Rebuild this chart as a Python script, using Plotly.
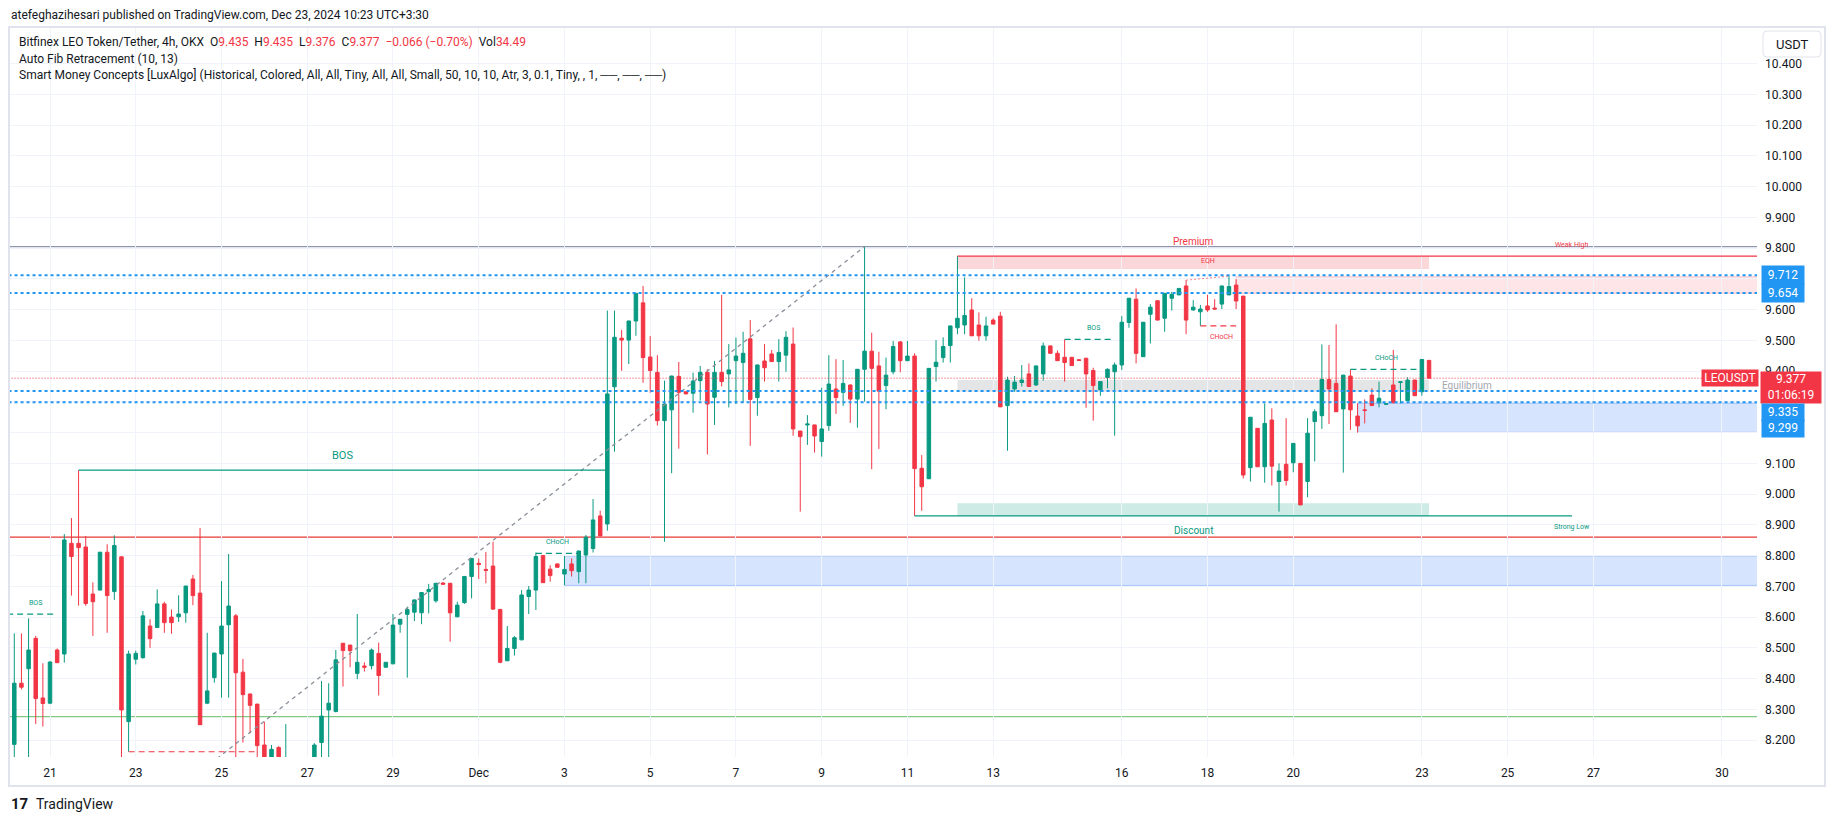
import plotly.graph_objects as go
from datetime import datetime, timedelta

W, H = 1835, 821

# ---------------- data ----------------
first_bar = datetime(2024, 11, 20, 7, 30)   # 4h bars, UTC+3:30
bar_hours = 4

opens = [8.186, 8.385, 8.432, 8.531, 8.337, 8.320, 8.493, 8.480, 8.840, 8.840,
         8.828, 8.675, 8.688, 8.811, 8.683, 8.796, 8.260, 8.463, 8.468, 8.571,
         8.566, 8.643, 8.600, 8.601, 8.614, 8.724, 8.678, 8.320, 8.403, 8.480,
         8.575, 8.604, 8.421, 8.350, 8.317, 8.184, 8.120, 8.176, 8.080, 8.120,
         8.070, 8.100, 8.080, 8.192, 8.298, 8.293, 8.515, 8.509, 8.417, 8.441,
         8.442, 8.482, 8.437, 8.448, 8.577, 8.609, 8.616, 8.614, 8.683, 8.653,
         8.711, 8.710, 8.601, 8.647, 8.732, 8.775, 8.755, 8.766, 8.625, 8.458,
         8.498, 8.526, 8.667, 8.688, 8.800, 8.756, 8.773, 8.740, 8.773, 8.748,
         8.802, 8.823, 8.929, 8.903, 9.349, 9.507, 9.501, 9.563, 9.622, 9.446,
         9.396, 9.239, 9.274, 9.383, 9.333, 9.328, 9.369, 9.396, 9.315, 9.396,
         9.391, 9.434, 9.428, 9.505, 9.314, 9.433, 9.456, 9.431, 9.452, 9.488,
         9.205, 9.225, 9.225, 9.171, 9.223, 9.342, 9.331, 9.355, 9.309, 9.406,
         9.465, 9.417, 9.353, 9.398, 9.495, 9.434, 9.449, 9.084, 9.050, 9.415,
         9.444, 9.483, 9.541, 9.550, 9.599, 9.550, 9.515, 9.566, 9.579, 9.288,
         9.342, 9.363, 9.391, 9.355, 9.391, 9.482, 9.458, 9.445, 9.445, 9.437,
         9.442, 9.402, 9.339, 9.379, 9.398, 9.420, 9.558, 9.634, 9.447, 9.585,
         9.629, 9.572, 9.637, 9.648, 9.677, 9.599, 9.593, 9.612, 9.605, 9.618,
         9.648, 9.680, 9.644, 9.086, 9.214, 9.089, 9.241, 9.041, 9.097, 9.102,
         9.100, 9.041, 9.236, 9.255, 9.373, 9.360, 9.277, 9.384, 9.254, 9.274,
         9.322, 9.297, 9.292, 9.355, 9.363, 9.304, 9.371, 9.333, 9.435]

highs = [8.547, 8.547, 8.596, 8.539, 8.450, 8.456, 8.498, 8.870, 8.922, 9.078,
         8.864, 8.713, 8.812, 8.837, 8.866, 8.797, 8.491, 8.491, 8.620, 8.593,
         8.690, 8.650, 8.625, 8.671, 8.702, 8.737, 8.890, 8.549, 8.484, 8.717,
         8.805, 8.610, 8.464, 8.351, 8.318, 8.260, 8.184, 8.180, 8.252, 8.130,
         8.130, 8.140, 8.190, 8.392, 8.385, 8.493, 8.516, 8.510, 8.610, 8.453,
         8.498, 8.517, 8.454, 8.610, 8.594, 8.634, 8.657, 8.681, 8.708, 8.711,
         8.713, 8.711, 8.650, 8.734, 8.792, 8.791, 8.812, 8.845, 8.626, 8.571,
         8.538, 8.688, 8.701, 8.810, 8.801, 8.769, 8.774, 8.799, 8.791, 8.816,
         8.867, 8.984, 8.946, 9.597, 9.597, 9.534, 9.564, 9.654, 9.677, 9.514,
         9.452, 9.369, 9.385, 9.430, 9.334, 9.395, 9.417, 9.406, 9.433, 9.648,
         9.488, 9.509, 9.528, 9.566, 9.421, 9.488, 9.469, 9.504, 9.530, 9.542,
         9.206, 9.257, 9.226, 9.346, 9.452, 9.439, 9.436, 9.356, 9.407, 9.805,
         9.525, 9.463, 9.444, 9.498, 9.498, 9.498, 9.458, 9.127, 9.410, 9.501,
         9.510, 9.548, 9.774, 9.705, 9.637, 9.591, 9.577, 9.572, 9.593, 9.382,
         9.384, 9.420, 9.425, 9.418, 9.493, 9.483, 9.467, 9.503, 9.446, 9.438,
         9.443, 9.411, 9.367, 9.409, 9.428, 9.579, 9.638, 9.669, 9.560, 9.618,
         9.630, 9.654, 9.658, 9.670, 9.696, 9.631, 9.615, 9.648, 9.634, 9.678,
         9.709, 9.699, 9.645, 9.251, 9.215, 9.295, 9.279, 9.100, 9.247, 9.166,
         9.101, 9.247, 9.276, 9.487, 9.485, 9.552, 9.388, 9.406, 9.295, 9.308,
         9.344, 9.366, 9.295, 9.469, 9.366, 9.380, 9.372, 9.439, 9.435]

lows = [8.100, 8.365, 8.100, 8.252, 8.244, 8.317, 8.450, 8.452, 8.670, 8.637,
        8.637, 8.539, 8.687, 8.549, 8.656, 8.130, 8.162, 8.446, 8.465, 8.500,
        8.565, 8.549, 8.546, 8.584, 8.582, 8.639, 8.249, 8.317, 8.387, 8.338,
        8.338, 8.120, 8.192, 8.222, 8.130, 8.100, 8.100, 8.080, 8.050, 8.040,
        8.030, 8.050, 8.060, 8.120, 8.130, 8.290, 8.374, 8.437, 8.398, 8.423,
        8.430, 8.345, 8.436, 8.447, 8.549, 8.403, 8.587, 8.577, 8.612, 8.647,
        8.705, 8.520, 8.600, 8.643, 8.661, 8.724, 8.710, 8.623, 8.450, 8.457,
        8.475, 8.525, 8.610, 8.623, 8.711, 8.715, 8.761, 8.703, 8.732, 8.710,
        8.710, 8.810, 8.863, 8.881, 9.138, 9.401, 9.423, 9.515, 9.362, 9.330,
        9.223, 8.845, 9.068, 9.148, 9.325, 9.265, 9.304, 9.129, 9.225, 9.350,
        9.282, 9.293, 9.297, 9.157, 9.255, 9.366, 9.430, 9.366, 9.398, 9.190,
        8.943, 9.160, 9.135, 9.122, 9.206, 9.261, 9.287, 9.232, 9.216, 9.301,
        9.081, 9.147, 9.276, 9.390, 9.396, 9.433, 8.929, 8.946, 9.049, 9.366,
        9.428, 9.428, 9.520, 9.520, 9.514, 9.499, 9.499, 9.552, 9.283, 9.141,
        9.333, 9.350, 9.349, 9.352, 9.369, 9.457, 9.433, 9.366, 9.417, 9.434,
        9.281, 9.239, 9.320, 9.344, 9.190, 9.404, 9.541, 9.425, 9.446, 9.490,
        9.565, 9.528, 9.597, 9.647, 9.520, 9.597, 9.547, 9.593, 9.601, 9.602,
        9.647, 9.602, 9.051, 9.041, 9.088, 9.037, 9.028, 8.943, 9.028, 9.071,
        8.964, 8.990, 9.106, 9.212, 9.228, 9.267, 9.070, 9.209, 9.200, 9.230,
        9.287, 9.282, 9.291, 9.296, 9.295, 9.303, 9.319, 9.320, 9.376]

closes = [8.385, 8.372, 8.493, 8.335, 8.319, 8.454, 8.452, 8.851, 8.797, 8.826,
          8.644, 8.650, 8.811, 8.670, 8.833, 8.298, 8.480, 8.482, 8.604, 8.530,
          8.643, 8.582, 8.582, 8.610, 8.701, 8.670, 8.250, 8.360, 8.483, 8.571,
          8.636, 8.419, 8.348, 8.313, 8.182, 8.120, 8.170, 8.110, 8.120, 8.070,
          8.100, 8.080, 8.184, 8.278, 8.320, 8.461, 8.491, 8.491, 8.453, 8.437,
          8.493, 8.410, 8.453, 8.574, 8.593, 8.625, 8.656, 8.680, 8.690, 8.710,
          8.707, 8.614, 8.639, 8.732, 8.791, 8.771, 8.752, 8.626, 8.453, 8.498,
          8.533, 8.672, 8.688, 8.797, 8.712, 8.735, 8.762, 8.755, 8.751, 8.815,
          8.860, 8.916, 8.864, 9.326, 9.510, 9.501, 9.563, 9.653, 9.444, 9.402,
          9.239, 9.293, 9.384, 9.331, 9.326, 9.368, 9.396, 9.293, 9.396, 9.366,
          9.404, 9.449, 9.458, 9.308, 9.420, 9.411, 9.431, 9.461, 9.510, 9.212,
          9.187, 9.228, 9.189, 9.212, 9.358, 9.314, 9.360, 9.309, 9.406, 9.465,
          9.409, 9.335, 9.387, 9.480, 9.434, 9.449, 9.083, 9.024, 9.409, 9.429,
          9.480, 9.547, 9.572, 9.581, 9.515, 9.515, 9.547, 9.553, 9.284, 9.371,
          9.364, 9.371, 9.350, 9.417, 9.482, 9.458, 9.434, 9.428, 9.418, 9.435,
          9.391, 9.353, 9.366, 9.406, 9.420, 9.559, 9.637, 9.458, 9.559, 9.608,
          9.566, 9.653, 9.650, 9.669, 9.566, 9.608, 9.602, 9.599, 9.602, 9.677,
          9.675, 9.628, 9.062, 9.250, 9.089, 9.230, 9.091, 9.075, 9.044, 9.165,
          8.965, 9.198, 9.268, 9.373, 9.342, 9.268, 9.387, 9.274, 9.222, 9.272,
          9.288, 9.312, 9.294, 9.297, 9.365, 9.371, 9.320, 9.438, 9.377]

x_tick_dates = ["2024-11-21", "2024-11-23", "2024-11-25", "2024-11-27", "2024-11-29",
                "2024-12-01", "2024-12-03", "2024-12-05", "2024-12-07", "2024-12-09",
                "2024-12-11", "2024-12-13", "2024-12-16", "2024-12-18", "2024-12-20",
                "2024-12-23", "2024-12-25", "2024-12-27", "2024-12-30"]
x_tick_labels = ["21", "23", "25", "27", "29", "Dec", "3", "5", "7", "9", "11", "13",
                 "16", "18", "20", "23", "25", "27", "30"]
y_ticks = [8.2, 8.3, 8.4, 8.5, 8.6, 8.7, 8.8, 8.9, 9.0, 9.1, 9.2, 9.3, 9.4, 9.5,
           9.6, 9.7, 9.8, 9.9, 10.0, 10.1, 10.2, 10.3, 10.4]
# 9.700 and 9.300 sit fully under the price tags on the scale, as in the original
y_tick_labels = ["" if v in (9.3, 9.7) else "%.3f" % v for v in y_ticks]

# Auto Fib: swing (bar, price) pair and the visible levels
fib_start = (-99, 5.800)
fib_end = (119, 9.805)
fib_levels = [9.805, 8.860, 8.276]

# horizontal dotted levels (user rays)
ray_levels = [9.712, 9.654, 9.335, 9.299]
last_price = 9.377

# Smart-money structure lines: (label, bar0, bar1, price, kind, label_bar)
structures = [
    ("BOS", -1, 6, 8.610, "bull_dash", 3),
    ("BOS", 9, 83, 9.078, "bull_solid", 46),
    ("", 16, 34, 8.162, "bear_dash", 25),
    ("CHoCH", 73, 79, 8.807, "bull_dash", 76),
    ("BOS", 147, 154, 9.503, "bull_dash", 151),
    ("CHoCH", 166, 171, 9.547, "bear_dash", 169),
    ("CHoCH", 187, 197, 9.406, "bull_dash", 192),
]
# order blocks: (bar0, bottom, top, kind)
order_blocks = [(77, 8.703, 8.799, "bull"), (188, 9.201, 9.296, "bull"),
                (171, 9.653, 9.707, "bear")]
# premium / equilibrium / discount zones
zone_bars = (132, 198)
premium_zone = (9.732, 9.774)
equilibrium_zone = (9.333, 9.371)
discount_zone = (8.929, 8.970)
weak_high = (132, 9.774)
strong_low = (126, 8.929)
trail_end_bar = 218
eqh = ((164, 9.696), (170, 9.709))

# ---------------- helpers ----------------
def t(bar):
    return (first_bar + timedelta(hours=bar_hours * bar)).strftime("%Y-%m-%d %H:%M:%S")

def PX(x):
    return x / W

def PY(y):
    return 1 - y / H

GREEN = "#089981"
RED = "#F23645"
BLUE = "#2196F3"
TXT = "#131722"
FONT = "Roboto, Arial, sans-serif"

fig = go.Figure()

fig.add_trace(go.Candlestick(
    x=[t(i) for i in range(len(opens))],
    open=opens, high=highs, low=lows, close=closes,
    increasing=dict(line=dict(color=GREEN, width=1), fillcolor=GREEN),
    decreasing=dict(line=dict(color=RED, width=1), fillcolor=RED),
    whiskerwidth=0, showlegend=False, hoverinfo="skip"))

shapes = []
annos = []

def seg(b0, p0, b1, p1, color, width=1, dash="solid", layer="above"):
    shapes.append(dict(type="line", xref="x", yref="y", x0=t(b0), y0=p0, x1=t(b1), y1=p1,
                       line=dict(color=color, width=width, dash=dash), layer=layer))

def box(b0, b1, p0, p1, fill, edge=None, layer="below"):
    shapes.append(dict(type="rect", xref="x", yref="y", x0=t(b0), x1=t(b1), y0=p0, y1=p1,
                       fillcolor=fill, line=dict(width=1 if edge else 0, color=edge or fill),
                       layer=layer))

def label(bar, price, text, color, size, yanchor="bottom", yshift=0, xanchor="center"):
    annos.append(dict(x=t(bar), y=price, xref="x", yref="y", text=text, showarrow=False,
                      font=dict(family=FONT, size=size, color=color),
                      xanchor=xanchor, yanchor=yanchor, yshift=yshift))

FAR_R = 260

# zones
box(zone_bars[0], zone_bars[1], *premium_zone, "rgba(242,54,69,0.20)")
box(zone_bars[0], zone_bars[1], *equilibrium_zone, "rgba(120,123,134,0.20)")
box(zone_bars[0], zone_bars[1], *discount_zone, "rgba(8,153,129,0.20)")
for b0, lo, hi, kind in order_blocks:
    if kind == "bull":
        box(b0, FAR_R, lo, hi, "rgba(49,121,245,0.20)", "rgba(49,121,245,0.35)")
    else:
        box(b0, FAR_R, lo, hi, "rgba(247,82,95,0.15)", "rgba(247,82,95,0.28)")

# fib
fib_cols = ["#8f96b2", "#E53935", "#81C784"]
for lv, c in zip(fib_levels, fib_cols):
    seg(fib_start[0], lv, FAR_R, lv, c, 1.3, layer="below")
seg(fib_start[0], fib_start[1], fib_end[0], fib_end[1], "#8a8e99", 1.3, "4px,4px")

# rays
for lv in ray_levels:
    seg(-5, lv, FAR_R, lv, BLUE, 2, "3px,3px")
seg(-5, last_price, FAR_R, last_price, RED, 1, "1px,2px")

# trailing extremes
seg(weak_high[0], weak_high[1], FAR_R, weak_high[1], RED, 1.3)
seg(strong_low[0], strong_low[1], trail_end_bar, strong_low[1], GREEN, 1.3)
label(trail_end_bar, weak_high[1], "Weak High", RED, 7, "bottom", 5)
label(trail_end_bar, strong_low[1], "Strong Low", GREEN, 7, "top", -5)

# zone labels
mid = (zone_bars[0] + zone_bars[1]) / 2
label(mid, premium_zone[1], "Premium", RED, 10, "bottom", 7)
label(mid, discount_zone[0], "Discount", GREEN, 10, "top", -7)
label(zone_bars[1] + 1.6, sum(equilibrium_zone) / 2, "Equilibrium", "#a3a6af", 10, "middle", 0, "left")

# EQH
seg(eqh[0][0], eqh[0][1], eqh[1][0], eqh[1][1], "rgba(242,54,69,0.6)", 1, "2px,2px")
label((eqh[0][0] + eqh[1][0]) / 2, eqh[1][1], "EQH", RED, 7, "bottom", 9)

# structures
for text, b0, b1, p, kind, lb in structures:
    col = GREEN if kind.startswith("bull") else RED
    dash = "solid" if kind.endswith("solid") else "6px,4px"
    seg(b0, p, b1, p, col, 1.2, dash)
    if text:
        big = kind.endswith("solid")
        if kind.startswith("bull"):
            label(lb, p, text, col, 11 if big else 7, "bottom", 6 if big else 5)
        else:
            label(lb, p, text, col, 7, "top", -5)

# frame
shapes.append(dict(type="rect", xref="paper", yref="paper", x0=PX(9), x1=PX(1825),
                   y0=PY(786), y1=PY(27), line=dict(color="#e0e3eb", width=2), layer="below"))

# USDT button
x0, x1, y0, y1, r = 1763, 1821, 31, 57, 4
path = ("M {a},{b} L {c},{b} Q {d},{b} {d},{e} L {d},{f} Q {d},{g} {c},{g} "
        "L {a},{g} Q {h},{g} {h},{f} L {h},{e} Q {h},{b} {a},{b} Z").format(
    a=PX(x0 + r), b=PY(y0), c=PX(x1 - r), d=PX(x1), e=PY(y0 + r), f=PY(y1 - r),
    g=PY(y1), h=PX(x0))
shapes.append(dict(type="path", xref="paper", yref="paper", path=path,
                   fillcolor="white", line=dict(color="#e0e3eb", width=1)))
annos.append(dict(x=PX(1792), y=PY(44), xref="paper", yref="paper", text="USDT",
                  showarrow=False, xanchor="center", yanchor="middle",
                  font=dict(family=FONT, size=13, color=TXT)))

# price tags on axis
for lv in ray_levels[:2]:
    annos.append(dict(x=PX(1760.5), y=lv, xref="paper", yref="y", text="%.3f" % lv,
                      showarrow=False, xanchor="left", yanchor="middle", bgcolor=BLUE,
                      width=40, height=16, borderpad=1,
                      font=dict(family=FONT, size=12, color="white")))
annos.append(dict(x=PX(1760), y=PY(371), xref="paper", yref="paper",
                  text="%.3f<br>01:06:19" % last_price, showarrow=False,
                  xanchor="left", yanchor="top", bgcolor=RED, width=58, height=28.5,
                  borderpad=1, font=dict(family=FONT, size=12, color="white")))
for i, lv in enumerate(ray_levels[2:]):
    yt = 402.5 + i * 16.6
    annos.append(dict(x=PX(1760.5), y=PY(yt), xref="paper", yref="paper", text="%.3f" % lv,
                      showarrow=False, xanchor="left", yanchor="top", bgcolor=BLUE,
                      width=40, height=14.6, borderpad=1,
                      font=dict(family=FONT, size=12, color="white")))
annos.append(dict(x=PX(1759), y=last_price, xref="paper", yref="y", text="LEOUSDT",
                  showarrow=False, xanchor="right", yanchor="middle", bgcolor=RED,
                  width=54, height=14.3, borderpad=1,
                  font=dict(family=FONT, size=12, color="white")))

# header texts
def hdr(x, y, text, size=12):
    annos.append(dict(x=PX(x), y=PY(y), xref="paper", yref="paper", text=text,
                      showarrow=False, xanchor="left", yanchor="middle",
                      font=dict(family=FONT, size=size, color=TXT)))

S = "\u00a0"
def rv(v):
    return '<span style="color:%s">%s</span>' % (RED, v)

hdr(9, 15, "atefeghazihesari published on TradingView.com, Dec 23, 2024 10:23 UTC+3:30")
hdr(17, 41.5, "Bitfinex LEO Token/Tether, 4h, OKX" + S * 2 + "O" + rv("9.435") + S * 2 + "H" + rv("9.435")
    + S * 2 + "L" + rv("9.376") + S * 2 + "C" + rv("9.377") + S * 2 + rv("\u22120.066 (\u22120.70%)")
    + S * 2 + "Vol" + rv("34.49"))
hdr(17, 58.5, "Auto Fib Retracement (10, 13)")
hdr(17, 75.5, "Smart Money Concepts [LuxAlgo] (Historical, Colored, All, All, Tiny, All, All, Small, "
    "50, 10, 10, Atr, 3, 0.1, Tiny, , 1, \u2500\u2500, \u2500\u2500, \u2500\u2500)")

# TradingView logo
annos.append(dict(x=PX(9), y=PY(804), xref="paper", yref="paper", text="<b>17</b>",
                  showarrow=False, xanchor="left", yanchor="middle",
                  font=dict(family=FONT, size=15, color=TXT)))
annos.append(dict(x=PX(34), y=PY(804), xref="paper", yref="paper", text="TradingView",
                  showarrow=False, xanchor="left", yanchor="middle",
                  font=dict(family=FONT, size=14, color=TXT)))

fig.update_layout(
    width=W, height=H, autosize=False,
    margin=dict(l=0, r=0, t=0, b=0, pad=0),
    paper_bgcolor="white", plot_bgcolor="white",
    showlegend=False, shapes=shapes, annotations=annos,
    font=dict(family=FONT, size=12, color=TXT),
    xaxis=dict(type="date", domain=[PX(10), PX(1757)],
               range=[t(-0.6), t(243.9)],
               tickvals=[d + " 03:30:00" for d in x_tick_dates], ticktext=x_tick_labels,
               showgrid=True, gridcolor="#f0f3fa", gridwidth=1, zeroline=False,
               showline=False, ticks="", tickfont=dict(family=FONT, size=12, color=TXT),
               ticklabelstandoff=7, rangeslider=dict(visible=False), fixedrange=True),
    yaxis=dict(domain=[PY(757), PY(28)], range=[8.145, 10.516], side="right",
               tickvals=y_ticks, ticktext=y_tick_labels, showgrid=True, gridcolor="#f0f3fa",
               gridwidth=1, zeroline=False, showline=False, ticks="",
               tickfont=dict(family=FONT, size=12, color=TXT), ticklabelstandoff=7,
               fixedrange=True),
)

fig.write_html("out.html", config={"displayModeBar": False},
               post_script="document.body.style.margin='0';")
